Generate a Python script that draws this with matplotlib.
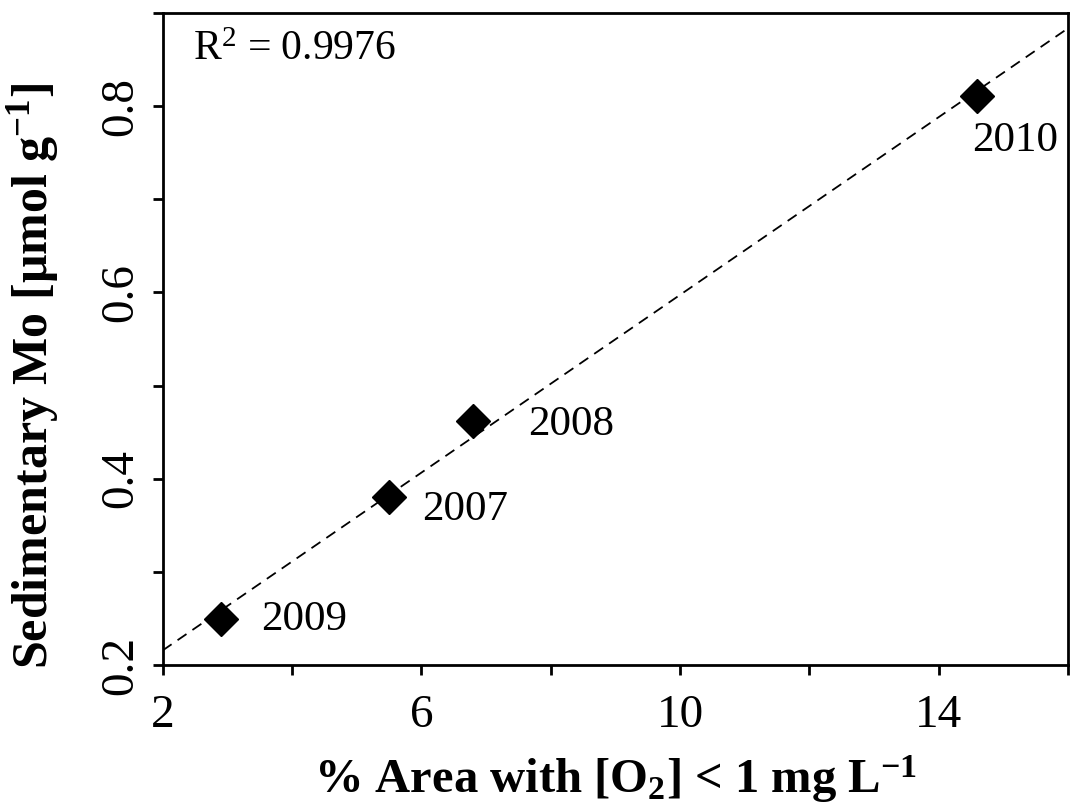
import matplotlib
matplotlib.use("Agg")
import matplotlib.pyplot as plt
import numpy as np

plt.rcParams['font.family'] = ['Liberation Serif', 'DejaVu Serif']
plt.rcParams['mathtext.fontset'] = 'custom'
plt.rcParams['mathtext.rm'] = 'Liberation Serif'
plt.rcParams['mathtext.it'] = 'Liberation Serif:italic'
plt.rcParams['mathtext.bf'] = 'Liberation Serif:bold'

# Daten: Flaeche mit O2 < 1 mg/L gegen sedimentaeres Mo
years = ['2009', '2007', '2008', '2010']
area_pct = [2.90, 5.50, 6.80, 14.59]
mo_umol = [0.249, 0.380, 0.462, 0.811]
r2_text = 'R$^2$ = 0.9976'

# Beschriftungs-Versatz in Punkten (dx, dy)
label_offsets = [(29, 0), (24, -9), (40, -3), (-3, -32)]

fig = plt.figure(figsize=(10.73, 8.08), dpi=100)
ax = fig.add_axes([0.1516, 0.177, 0.8437, 0.807])

# lineare Regression
slope, intercept = np.polyfit(area_pct, mo_umol, 1)
xfit = np.array([2, 16])
ax.plot(xfit, slope * xfit + intercept, color='black', lw=1.3,
        linestyle=(0, (6, 4)), zorder=1)

ax.plot(area_pct, mo_umol, linestyle='none', marker='D', ms=17,
        color='black', zorder=2)

for yr, x, y, off in zip(years, area_pct, mo_umol, label_offsets):
    ax.annotate(yr, (x, y), xytext=off, textcoords='offset points',
                ha='left', va='center', fontsize=31)

ax.text(0.033, 0.943, r2_text, transform=ax.transAxes, fontsize=30,
        ha='left', va='center')

ax.set_xlim(2, 16)
ax.set_ylim(0.2, 0.9)
ax.set_xticks(np.arange(2, 17, 2))
ax.set_xticklabels(['2', '', '6', '', '10', '', '14', ''])
ax.set_yticks(np.arange(0.2, 0.91, 0.1))
ax.set_yticklabels(['0.2', '', '0.4', '', '0.6', '', '0.8', ''])

ax.tick_params(direction='out', length=7, width=2, labelsize=34)
ax.tick_params(axis='x', pad=14)
ax.tick_params(axis='y', pad=8)
for lbl in ax.get_yticklabels():
    lbl.set_rotation(90)
    lbl.set_va('center')
for sp in ax.spines.values():
    sp.set_linewidth(2)

ax.set_xlabel(r'% Area with [O$_\mathbf{2}$] < 1 mg L$^\mathbf{-1}$',
              fontsize=35, fontweight='bold')
ax.set_ylabel(r'Sedimentary Mo [$\mathbf{\mu}$mol g$^\mathbf{-1}$]',
              fontsize=36, fontweight='bold')
ax.xaxis.set_label_coords(0.5, -0.135)
ax.yaxis.set_label_coords(-0.112, 0.443)

fig.savefig('out.png', dpi=100)
